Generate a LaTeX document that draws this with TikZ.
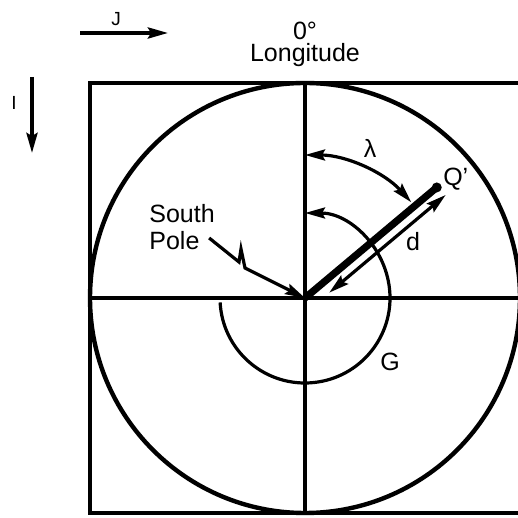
\documentclass[tikz,border=0pt]{standalone}
\usepackage{fontspec}
\setmainfont{Liberation Sans}
\usetikzlibrary{arrows.meta}
\usetikzlibrary{calc}

\begin{document}
\begin{tikzpicture}[x=0.5pt, y=0.5pt,
    lbl/.style={font=\fontsize{12.5}{13.5}\selectfont, inner sep=0pt},
    small/.style={font=\fontsize{9.5}{10}\selectfont, inner sep=0pt},
    tip/.style={-{Stealth[length=10pt, width=5.5pt, inset=1.5pt]}},
    tips/.style={{Stealth[length=10pt, width=5.5pt, inset=1.5pt]}-{Stealth[length=10pt, width=5.5pt, inset=1.5pt]}}]
    \useasboundingbox (0,0) rectangle (518,518);
    \clip (0,0) rectangle (518,518);

    % Frame and circle
    \coordinate (O) at (305,220);
    \draw[line width=2pt] (520,435) -- (90,435) -- (90,5) -- (520,5);
    \draw[line width=2.2pt] (O) circle (215);

    % Axes
    \coordinate (W) at (90,220);
    \coordinate (E) at (518,220);
    \coordinate (N) at (305,435);
    \coordinate (S) at (305,5);
    \draw[line width=1.7pt] (W) -- (E);
    \draw[line width=1.7pt] (N) -- (S);

    % Point Q'
    \coordinate (Q) at ($(O)+(40:172)$);
    \draw[line width=3.6pt] (O) -- (Q);
    \fill (Q) circle (5);
    \node[lbl] (qlabel) at ($(Q)+(19,8)$) {Q\textquoteright};

    % Distance d
    \coordinate (dA) at ($(O)+(-50:11.5)+(40:22)$);
    \coordinate (dB) at ($(O)+(-50:11.5)+(40:174)$);
    \draw[tips, line width=1.6pt] (dA) -- (dB);
    \node[lbl] (dlabel) at ($(O)+(108,56)$) {d};

    % Angle lambda
    \draw[tips, line width=1.6pt] ($(O)+(90:143)$) arc (90:42:143);
    \node[lbl] (lamlabel) at ($(O)+(65,150)$) {λ};

    % Angle G
    \draw[tip, line width=1.6pt] ($(O)+(183:85)$) arc (183:450:85);
    \node[lbl] (glabel) at ($(O)+(85,-64)$) {G};

    % South Pole
    \node[lbl, align=left, anchor=west] (south) at (149,291) {South\\Pole};
    \coordinate (zz) at ($(south.east)+(-6,-11)$);
    \draw[tip, line width=1.6pt] (zz) -- (239,256) -- (241,269) -- (245,250) -- (O);

    % 0 deg longitude
    \node[lbl, anchor=base] (zero) at (305,478) {0°};
    \node[lbl, anchor=base] (lon) at (305,456) {Longitude};

    % Directions I and J
    \coordinate (J0) at (80,485);
    \coordinate (J1) at (168,485);
    \draw[tip, line width=1.8pt] (J0) -- (J1);
    \node[small] (jlabel) at (116,499) {J};
    \coordinate (I0) at (32,441);
    \coordinate (I1) at (32,365);
    \draw[tip, line width=1.8pt] (I0) -- (I1);
    \node[small] (ilabel) at (14,415) {I};
\end{tikzpicture}
\end{document}
